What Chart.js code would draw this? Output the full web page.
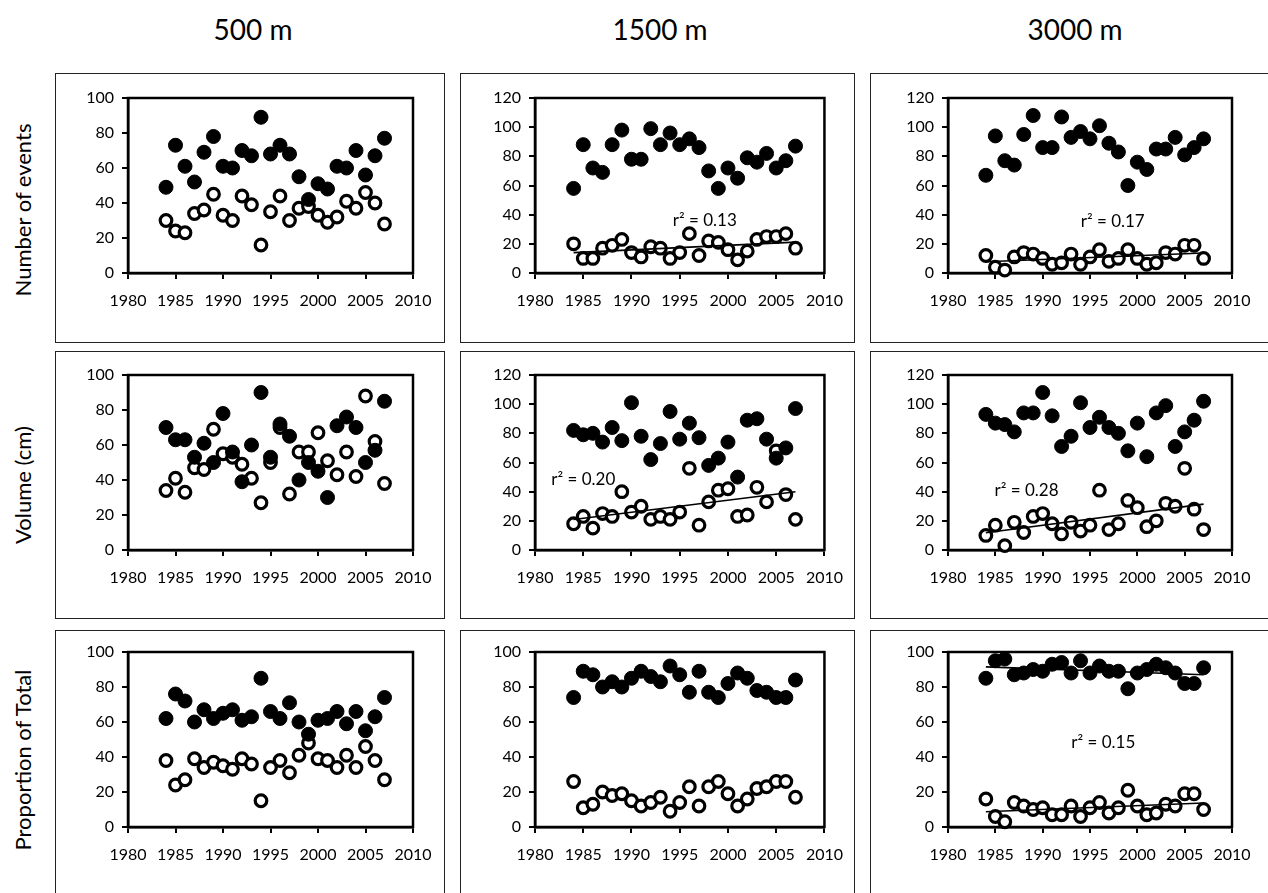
<!DOCTYPE html>
<html>
<head>
<meta charset="utf-8">
<script src="https://cdn.jsdelivr.net/npm/chart.js@4.4.1/dist/chart.umd.min.js"></script>
<style>
  body { margin:0; width:1268px; height:893px; overflow:hidden; background:#fff; font-family:Lato, sans-serif; position:relative; }
  .box { position:absolute; border:1.5px solid #222; box-sizing:border-box; }
  canvas { position:absolute; }
  .head { position:absolute; top:12px; width:240px; text-align:center; font-size:28px; color:#000; }
  .ytitle { position:absolute; left:22px; font-size:22px; white-space:nowrap; color:#000; transform:translate(-50%,-50%) rotate(-90deg); }
</style>
</head>
<body>
<div class="head" style="left:133px">500 m</div>
<div class="head" style="left:540px">1500 m</div>
<div class="head" style="left:955px">3000 m</div>
<div class="ytitle" style="top:210px">Number of events</div>
<div class="ytitle" style="top:485px">Volume (cm)</div>
<div class="ytitle" style="top:760px">Proportion of Total</div>

<script>
// years shared by every panel
const years = [1984,1985,1986,1987,1988,1989,1990,1991,1992,1993,1994,1995,
               1996,1997,1998,1999,2000,2001,2002,2003,2004,2005,2006,2007];
const xTicks = [1980, 2010];

// number of events
const evt500Filled  = [49,73,61,52,69,78,61,60,70,67,89,68,73,68,55,42,51,48,61,60,70,56,67,77];
const evt500Open    = [30,24,23,34,36,45,33,30,44,39,16,35,44,30,37,38,33,29,32,41,37,46,40,28];
const evt1500Filled = [58,88,72,69,88,98,78,78,99,88,96,88,92,86,70,58,72,65,79,76,82,72,77,87];
const evt1500Open   = [20,10,10,17,19,23,14,11,18,17,10,14,27,12,22,21,16,9,15,23,25,25,27,17];
const evt3000Filled = [67,94,77,74,95,108,86,86,107,93,97,92,101,89,83,60,76,71,85,85,93,81,86,92];
const evt3000Open   = [12,4,2,11,14,13,10,6,7,13,6,11,16,8,10,16,10,6,7,14,13,19,19,10];

// volume (cm)
const vol500Filled  = [70,63,63,53,61,50,78,56,39,60,90,53,72,65,40,50,45,30,71,76,70,50,57,85];
const vol500Open    = [34,41,33,47,46,69,55,53,49,41,27,50,70,32,56,56,67,51,43,56,42,88,62,38];
const vol1500Filled = [82,79,80,74,84,75,101,78,62,73,95,76,87,77,58,63,74,50,89,90,76,63,70,97];
const vol1500Open   = [18,23,15,25,23,40,26,30,21,23,21,26,56,17,33,41,42,23,24,43,33,68,38,21];
const vol3000Filled = [93,87,86,81,94,94,108,92,71,78,101,84,91,84,80,68,87,64,94,99,71,81,89,102];
const vol3000Open   = [10,17,3,19,12,23,25,18,11,19,13,17,41,14,18,34,29,16,20,32,30,56,28,14];

// proportion of total
const prop500Filled  = [62,76,72,60,67,62,65,67,61,63,85,66,62,71,60,53,61,62,66,59,66,55,63,74];
const prop500Open    = [38,24,27,39,34,37,35,33,39,36,15,34,38,31,41,48,39,38,34,41,34,46,38,27];
const prop1500Filled = [74,89,87,80,83,80,85,89,86,83,92,87,77,89,77,74,82,88,85,78,77,74,74,84];
const prop1500Open   = [26,11,13,20,18,19,15,12,14,17,9,14,23,12,23,26,19,12,16,22,23,26,26,17];
const prop3000Filled = [85,95,96,87,88,90,89,93,94,88,95,88,92,89,89,79,88,90,93,91,88,82,82,91];
const prop3000Open   = [16,6,3,14,12,10,11,7,7,12,6,11,14,8,11,21,12,7,8,13,12,19,19,10];

// layout of the 3x3 grid (page px)
const colX = [55, 460, 870], colW = [390, 395, 410];
const rowY = [73, 351, 630], rowH = [270, 268, 270];
const plotL = [128, 535, 948], plotR = [413, 825, 1232];
const plotT = [98, 375, 652], plotB = [273, 550, 827];

const panels = [
  { row:0, col:0, filled:evt500Filled,  open:evt500Open,  yMax:100 },
  { row:0, col:1, filled:evt1500Filled, open:evt1500Open, yMax:120, trend:['open'], note:{ text:'r² = 0.13', x:1997.6, y:36 } },
  { row:0, col:2, filled:evt3000Filled, open:evt3000Open, yMax:120, trend:['open'], note:{ text:'r² = 0.17', x:1997.4, y:35 } },
  { row:1, col:0, filled:vol500Filled,  open:vol500Open,  yMax:100 },
  { row:1, col:1, filled:vol1500Filled, open:vol1500Open, yMax:120, trend:['open'], note:{ text:'r² = 0.20', x:1985, y:48.5 } },
  { row:1, col:2, filled:vol3000Filled, open:vol3000Open, yMax:120, trend:['open'], note:{ text:'r² = 0.28', x:1988.3, y:41 } },
  { row:2, col:0, filled:prop500Filled,  open:prop500Open,  yMax:100 },
  { row:2, col:1, filled:prop1500Filled, open:prop1500Open, yMax:100 },
  { row:2, col:2, filled:prop3000Filled, open:prop3000Open, yMax:100, trend:['filled','open'], note:{ text:'r² = 0.15', x:1996.4, y:48.5 } },
];

// least squares line over the data years
function fitLine(xs, ys) {
  const n = xs.length;
  const mx = xs.reduce((a,b)=>a+b,0)/n, my = ys.reduce((a,b)=>a+b,0)/n;
  let sxy = 0, sxx = 0;
  xs.forEach((x,i) => { sxy += (x-mx)*(ys[i]-my); sxx += (x-mx)*(x-mx); });
  const b = sxy/sxx, a = my - b*mx;
  const x0 = xs[0], x1 = xs[n-1];
  return [{x:x0, y:a+b*x0}, {x:x1, y:a+b*x1}];
}

const framePlugin = {
  id: 'frame',
  beforeDatasetsDraw(chart) {
    const { ctx, chartArea:a } = chart;
    ctx.save();
    ctx.strokeStyle = '#000';
    ctx.lineWidth = 2.5;
    ctx.strokeRect(a.left, a.top, a.right - a.left, a.bottom - a.top);
    ctx.restore();
  }
};

const notePlugin = {
  id: 'note',
  afterDatasetsDraw(chart, args, opts) {
    if (!opts || !opts.text) return;
    const { ctx, scales } = chart;
    ctx.save();
    ctx.fillStyle = '#000';
    ctx.font = '17px Lato';
    ctx.textAlign = 'center';
    ctx.textBaseline = 'middle';
    ctx.fillText(opts.text, scales.x.getPixelForValue(opts.x), scales.y.getPixelForValue(opts.y));
    ctx.restore();
  }
};

const tickFont = { family:'Lato', size:16 };

panels.forEach(p => {
  const x = colX[p.col], y = rowY[p.row], w = colW[p.col], h = rowH[p.row];
  const box = document.createElement('div');
  box.className = 'box';
  Object.assign(box.style, { left:x+'px', top:y+'px', width:w+'px', height:h+'px' });
  document.body.appendChild(box);

  const cv = document.createElement('canvas');
  cv.width = w; cv.height = h;
  Object.assign(cv.style, { left:x+'px', top:y+'px', width:w+'px', height:h+'px' });
  document.body.appendChild(cv);

  const datasets = [
    { label:'filled', data: years.map((yr,i) => ({x:yr, y:p.filled[i]})),
      pointRadius:7, pointBackgroundColor:'#000', pointBorderColor:'#000', pointBorderWidth:1,
      order:1, clip:false },
    { label:'open', data: years.map((yr,i) => ({x:yr, y:p.open[i]})),
      pointRadius:5.8, pointBackgroundColor:'#fff', pointBorderColor:'#000', pointBorderWidth:3.2,
      order:2, clip:false },
  ];
  (p.trend || []).forEach(k => {
    datasets.push({ label:'trend '+k, data: fitLine(years, p[k]), showLine:true,
      borderColor:'#000', borderWidth:1.6, pointRadius:0, order:0 });
  });

  new Chart(cv, {
    type: 'scatter',
    data: { datasets },
    plugins: [framePlugin, notePlugin],
    options: {
      responsive: false,
      animation: false,
      layout: { padding: { left:0, top: plotT[p.row]-y, right: x+w-plotR[p.col], bottom:0 } },
      plugins: { legend:{ display:false }, tooltip:{ enabled:false }, note: p.note || {} },
      scales: {
        x: {
          type:'linear', min:xTicks[0], max:xTicks[1],
          afterFit: s => { s.height = y + h - plotB[p.row]; },
          ticks: { stepSize:5, autoSkip:false, maxRotation:0, color:'#000', font:tickFont, padding:12,
                   callback: v => String(v) },
          grid: { drawOnChartArea:false, color:'#000', lineWidth:2, tickLength:6 },
          border: { color:'#000', width:2.5 }
        },
        y: {
          min:0, max:p.yMax,
          afterFit: s => { s.width = plotL[p.col] - x; },
          ticks: { stepSize:20, color:'#000', font:tickFont, padding:8 },
          grid: { drawOnChartArea:false, color:'#000', lineWidth:2, tickLength:6 },
          border: { color:'#000', width:2.5 }
        }
      }
    }
  });
});
</script>
</body>
</html>
